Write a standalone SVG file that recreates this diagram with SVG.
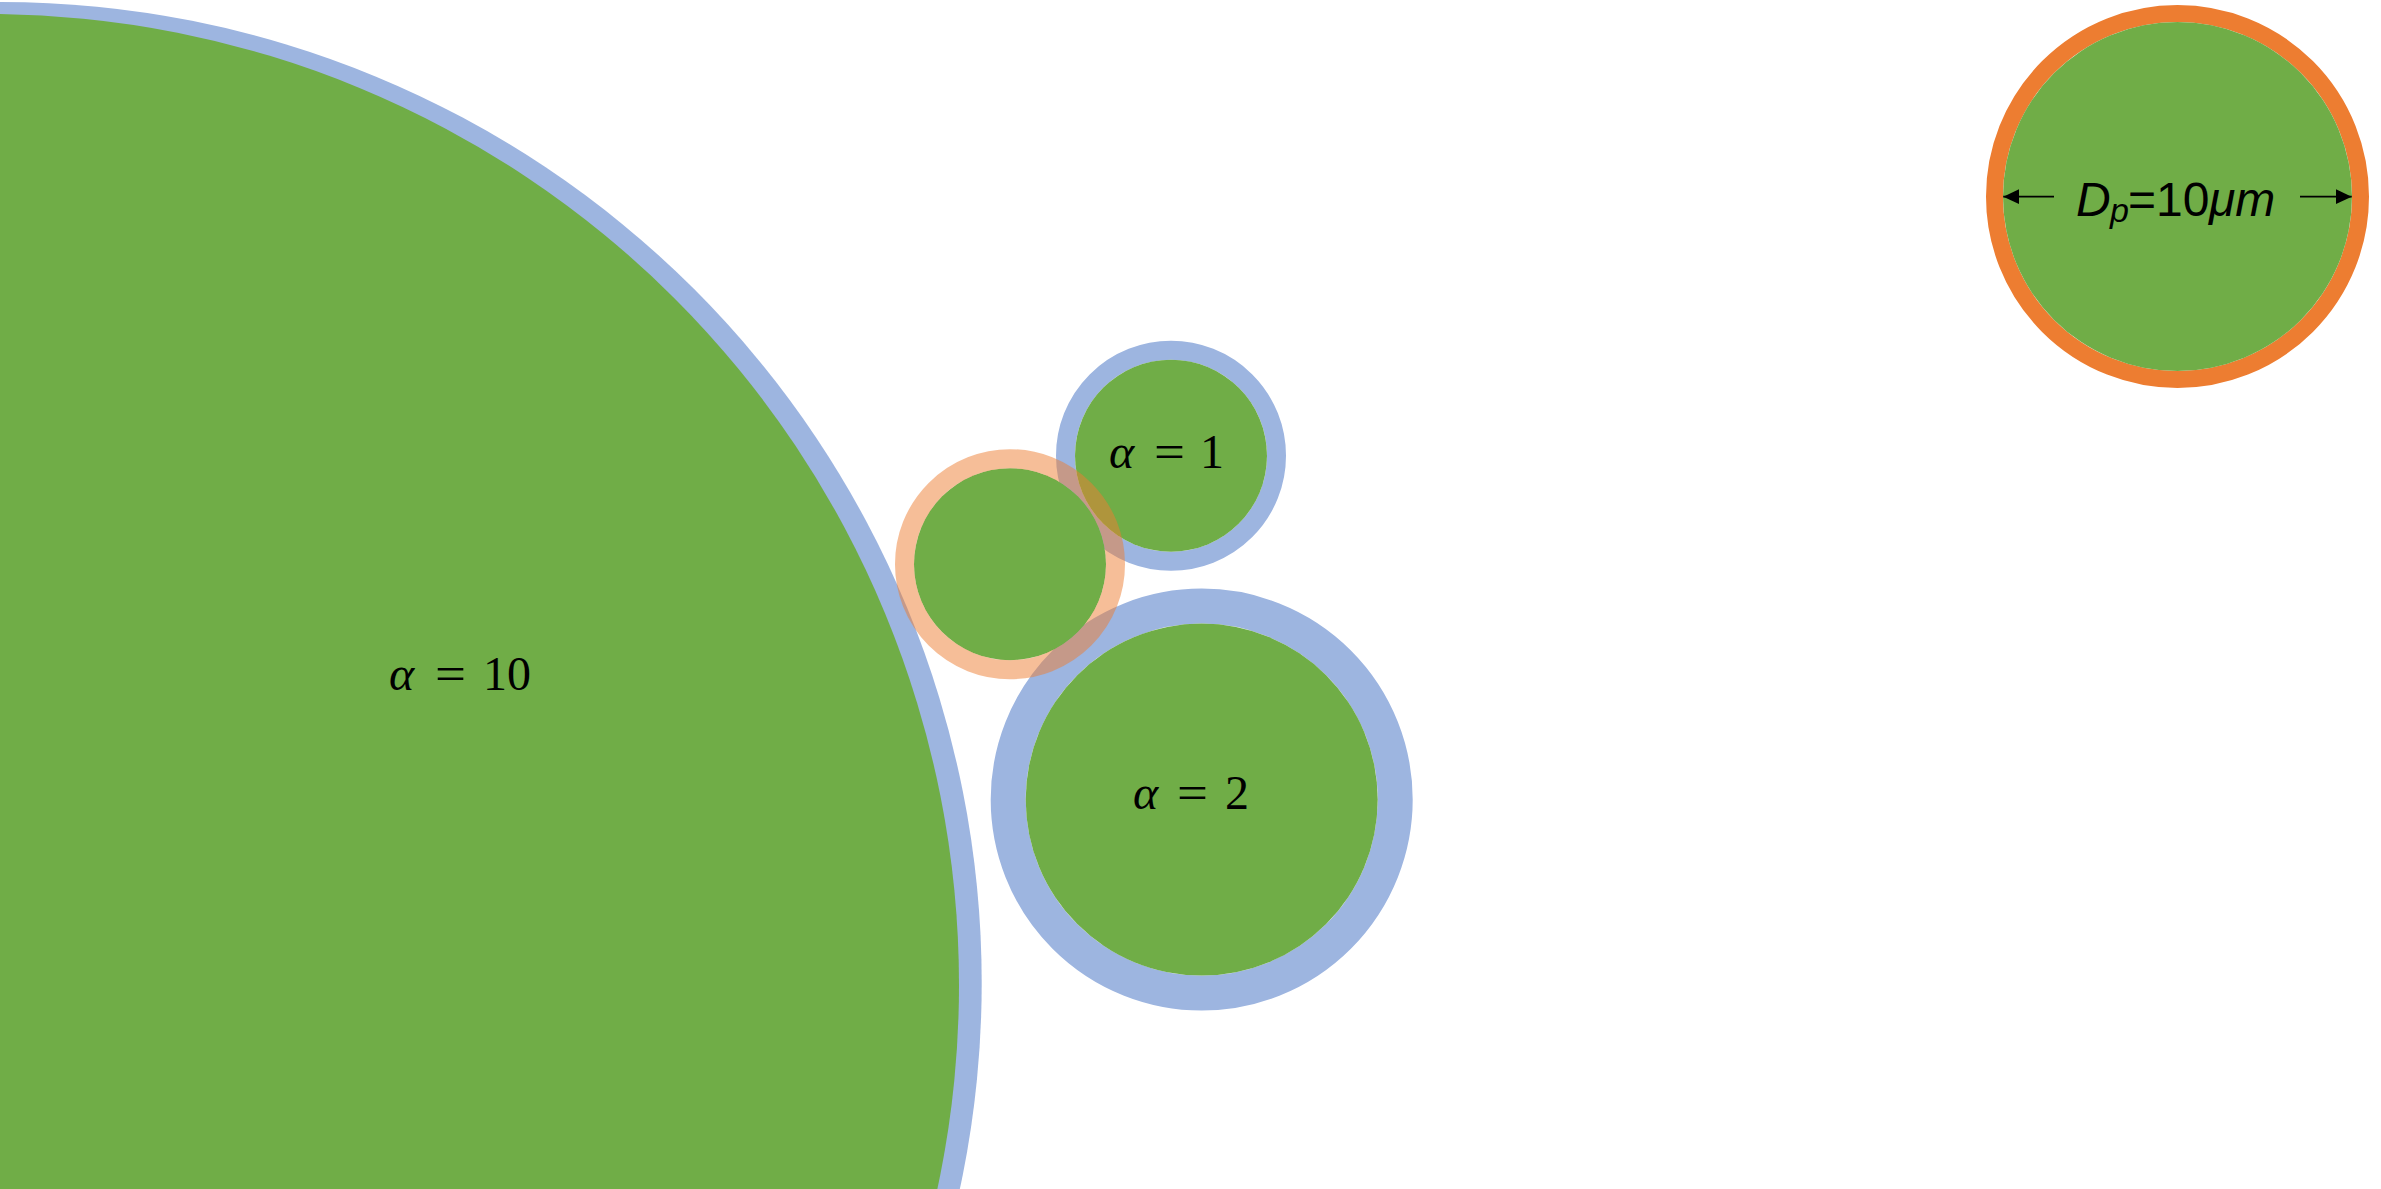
<svg xmlns="http://www.w3.org/2000/svg" width="2381" height="1189" viewBox="0 0 2381 1189">
  <style>
    .core { fill: #70AD47; }
    .shell-blue { fill: none; stroke: #9DB5E0; }
    .shell-orange-soft { fill: none; stroke: #ED7D31; stroke-opacity: 0.5; }
    .shell-orange { fill: none; stroke: #ED7D31; }
    .math { font-family: "Liberation Serif", "DejaVu Serif", serif; font-size: 48px; fill: #000000; }
    .math-it { font-style: italic; }
    .dim { font-family: "Liberation Sans", Arial, sans-serif; font-size: 48px; fill: #000000; }
    .arrow { stroke: #000000; stroke-width: 1.7; fill: none; marker-end: url(#arrowhead); }
  </style>
  <defs>
    <marker id="arrowhead" markerUnits="userSpaceOnUse" markerWidth="16" markerHeight="16" viewBox="0 0 16 16" refX="16" refY="8" orient="auto">
      <path d="M0,0.5 L16,8 L0,15.5 Z" fill="#000000"/>
    </marker>
  </defs>
  <rect x="0" y="0" width="2381" height="1189" fill="#FFFFFF"/>

  <g id="node-alpha-10">
    <circle cx="0.7" cy="983" r="981" fill="#9DB5E0"/>
    <circle class="core" cx="-12" cy="985" r="971"/>
    <text class="math math-it" x="389" y="690">α</text>
    <text class="math" x="435" y="690" textLength="31" lengthAdjust="spacingAndGlyphs">=</text>
    <text class="math" x="483" y="690">10</text>
  </g>

  <g id="node-alpha-2">
    <circle class="shell-blue" cx="1201.7" cy="799.6" r="193.5" stroke-width="35"/>
    <circle class="core" cx="1201.7" cy="799.6" r="176"/>
    <text class="math math-it" x="1133" y="809.4">α</text>
    <text class="math" x="1177" y="809.4" textLength="31" lengthAdjust="spacingAndGlyphs">=</text>
    <text class="math" x="1225" y="809.4">2</text>
  </g>

  <g id="node-alpha-1">
    <circle class="shell-blue" cx="1171" cy="455.7" r="105.5" stroke-width="19"/>
    <circle class="core" cx="1171" cy="455.7" r="96"/>
    <text class="math math-it" x="1109" y="467.7">α</text>
    <text class="math" x="1154" y="467.7" textLength="31" lengthAdjust="spacingAndGlyphs">=</text>
    <text class="math" x="1200" y="467.7">1</text>
  </g>

  <g id="node-reference-particle">
    <circle class="core" cx="1010" cy="564.2" r="96"/>
    <circle class="shell-orange-soft" cx="1010" cy="564.2" r="105.5" stroke-width="19"/>
  </g>

  <g id="node-dp">
    <circle class="shell-orange" cx="2177.5" cy="196.5" r="183" stroke-width="17"/>
    <circle class="core" cx="2177.5" cy="196.5" r="174.5"/>
    <text class="dim" y="216"><tspan x="2076" font-style="italic">D</tspan><tspan x="2110" y="222" font-style="italic" font-size="34px">p</tspan><tspan x="2128" y="216">=10</tspan><tspan x="2209" font-style="italic">μm</tspan></text>
  </g>

  <g id="connectors">
    <line class="arrow" x1="2054" y1="196.7" x2="2003.3" y2="196.7"/>
    <line class="arrow" x1="2300" y1="196.7" x2="2351.7" y2="196.7"/>
  </g>
</svg>
